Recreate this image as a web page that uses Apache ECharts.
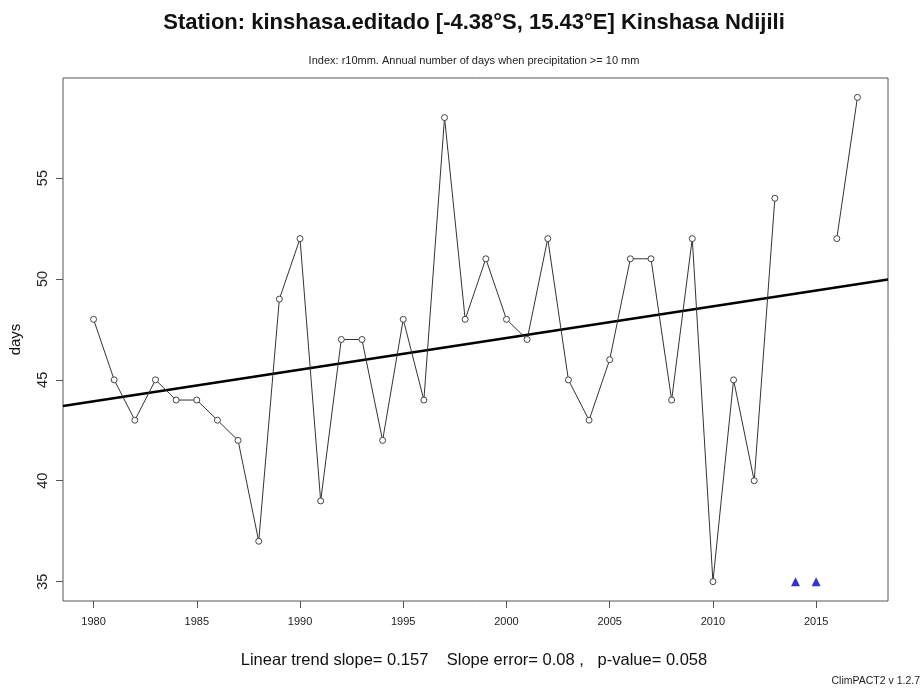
<!DOCTYPE html>
<html>
<head>
<meta charset="utf-8">
<script src="https://cdn.jsdelivr.net/npm/echarts@6/dist/echarts.min.js"></script>
<style>
html,body{margin:0;padding:0;background:#fff;}
#chart{width:923px;height:691px;}
</style>
</head>
<body>
<div id="chart"></div>
<script>
const years = [1980,1981,1982,1983,1984,1985,1986,1987,1988,1989,1990,1991,1992,1993,1994,1995,1996,1997,1998,1999,2000,2001,2002,2003,2004,2005,2006,2007,2008,2009,2010,2011,2012,2013,2014,2015,2016,2017];
const days = [48,45,43,45,44,44,43,42,37,49,52,39,47,47,42,48,44,58,48,51,48,47,52,45,43,46,51,51,44,52,35,45,40,54,null,null,52,59];
const missingYears = [2014,2015];
const missingValues = [35,35];
const trendYears = [1978.52,2018.48];
const trendValues = [43.70,49.97];
const xTicks = [1980,1985,1990,1995,2000,2005,2010,2015];
const yTicks = [35,40,45,50,55];
const xRange = [1978.52,2018.48];
const yRange = [34.04,59.96];

const chart = echarts.init(document.getElementById('chart'), null, {renderer:'canvas'});
const font = 'Liberation Sans, Arial, sans-serif';
chart.setOption({
  animation:false,
  backgroundColor:'#fff',
  title:[
    {text:'Station: kinshasa.editado [-4.38°S, 15.43°E] Kinshasa Ndijili', left:474, textAlign:'center', top:12, padding:0,
     textStyle:{fontFamily:font,fontSize:22,fontWeight:'bold',color:'#111'}},
    {text:'Index: r10mm. Annual number of days when precipitation >= 10 mm', left:474, textAlign:'center', top:55, padding:0,
     textStyle:{fontFamily:font,fontSize:11,fontWeight:'normal',color:'#222'}},
    {text:'Linear trend slope= 0.157    Slope error= 0.08 ,   p-value= 0.058', left:474, textAlign:'center', top:652, padding:0,
     textStyle:{fontFamily:font,fontSize:16.5,fontWeight:'normal',color:'#111'}},
    {text:'ClimPACT2 v 1.2.7', right:3, top:676, padding:0,
     textStyle:{fontFamily:font,fontSize:10.5,fontWeight:'normal',color:'#222'}}
  ],
  grid:{left:63,right:35,top:78,bottom:90,show:true,borderColor:'#555',borderWidth:1,backgroundColor:'transparent'},
  xAxis:{type:'value',min:xRange[0],max:xRange[1],
    axisLine:{show:false},
    splitLine:{show:false},
    axisTick:{show:true,length:7,inside:false,customValues:xTicks,lineStyle:{color:'#555'}},
    axisLabel:{customValues:xTicks,margin:15,fontFamily:font,fontSize:11,color:'#222',formatter:v=>String(v)}
  },
  yAxis:{type:'value',min:yRange[0],max:yRange[1],name:'days',nameLocation:'middle',nameGap:40,
    nameTextStyle:{fontFamily:font,fontSize:15,color:'#111'},
    axisLine:{show:false},
    splitLine:{show:false},
    axisTick:{show:true,length:7,customValues:yTicks,lineStyle:{color:'#555'}},
    axisLabel:{customValues:yTicks,rotate:90,margin:13,fontFamily:font,fontSize:14.5,color:'#222',formatter:v=>String(v)}
  },
  series:[
    {type:'line',data:trendYears.map((y,i)=>[y,trendValues[i]]),showSymbol:false,symbol:'none',
     lineStyle:{color:'#000',width:2.5},z:2,silent:true},
    {type:'line',data:years.map((y,i)=>[y,days[i]]),connectNulls:false,
     symbol:'circle',symbolSize:6,showAllSymbol:true,
     itemStyle:{color:'#fff',borderColor:'#444',borderWidth:1},
     lineStyle:{color:'#333',width:1},z:3},
    {type:'scatter',data:missingYears.map((y,i)=>[y,missingValues[i]]),symbol:'triangle',symbolSize:9,
     itemStyle:{color:'#0000c8'},z:4}
  ]
});
</script>
</body>
</html>
